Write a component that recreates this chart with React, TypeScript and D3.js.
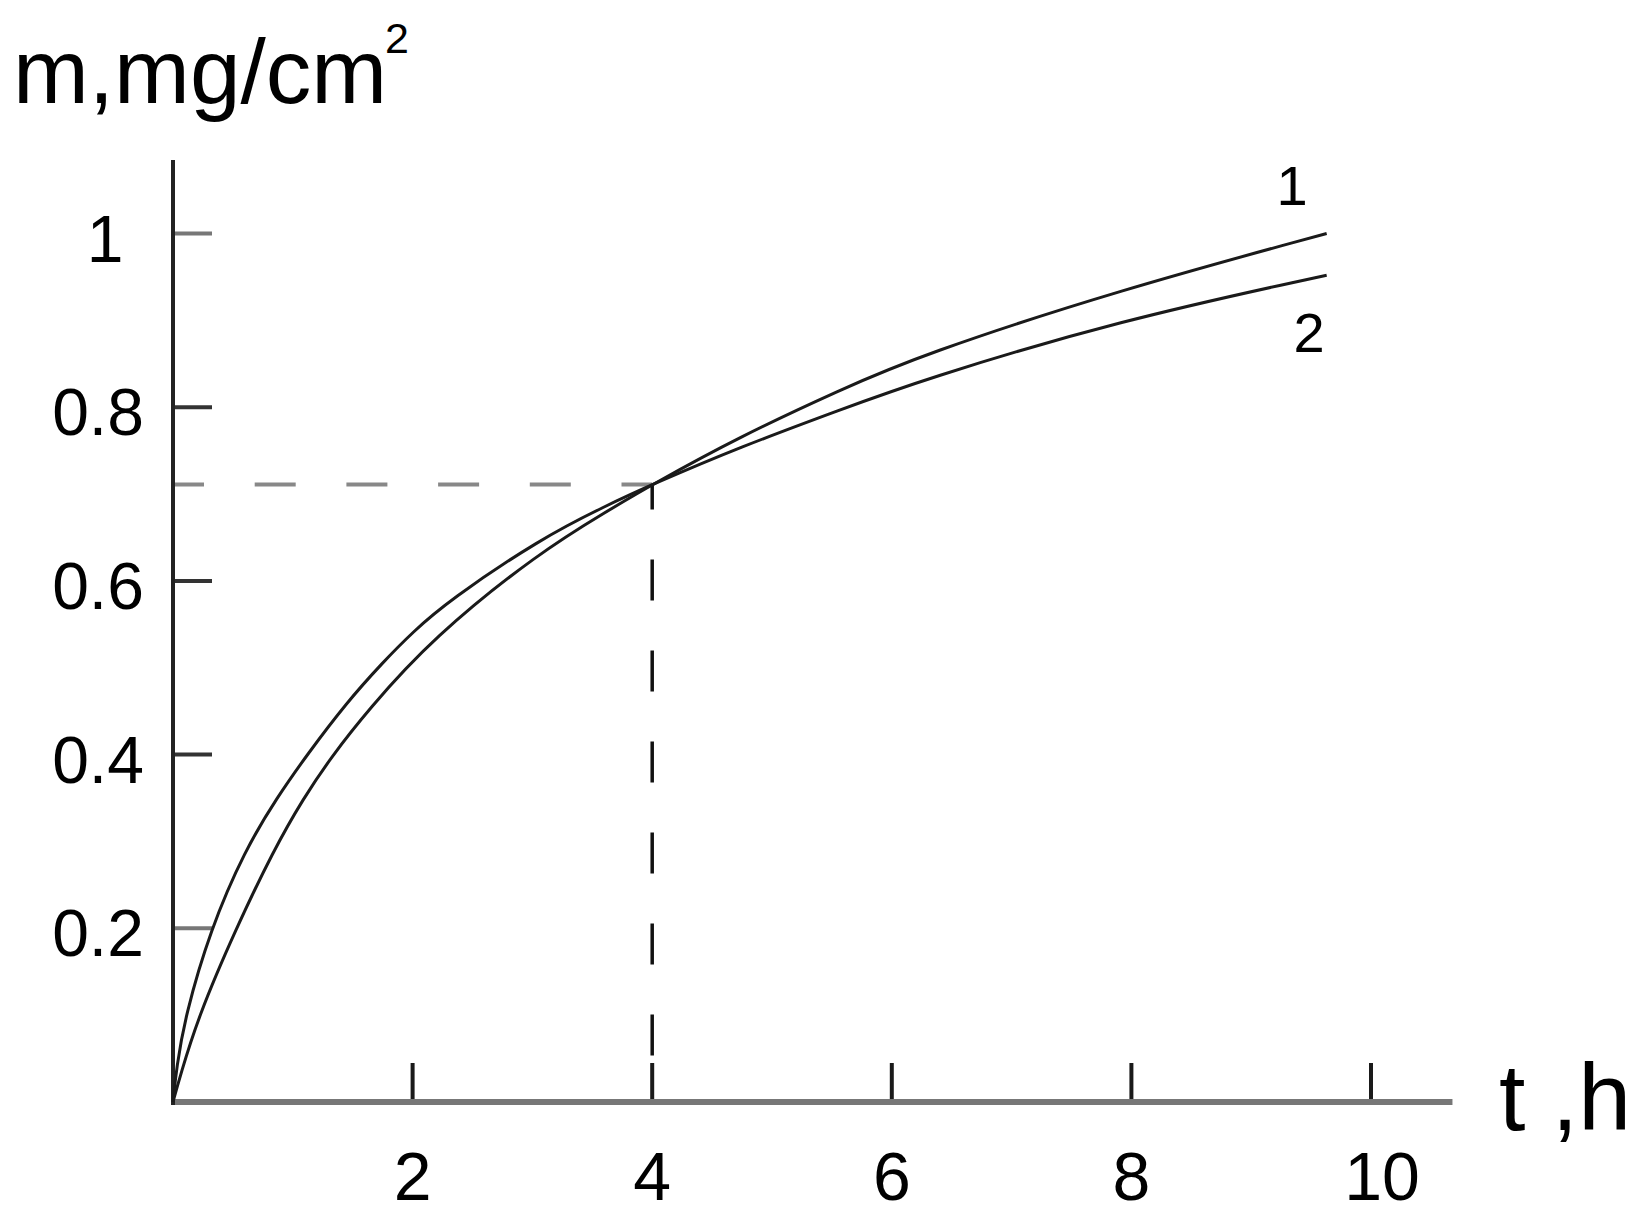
import React from "react";
import * as d3 from "d3";

// ---- data ----
const xTicks = [2, 4, 6, 8, 10];
const yTicks = [0.2, 0.4, 0.6, 0.8, 1];
const yTickLabels = ["0.2", "0.4", "0.6", "0.8", "1"];

// curve 1: lower at small t, ends at 1.0
const curve1T = [0, 0.06, 0.21, 0.52, 0.84, 1.09, 1.32, 1.62, 2.17, 3.06, 3.62, 4.0, 4.73, 5.57, 6.24, 7.9, 9.63];
const curve1M = [0, 0.03, 0.098, 0.198, 0.29, 0.35, 0.397, 0.45, 0.535, 0.633, 0.68, 0.711, 0.766, 0.82, 0.86, 0.935, 1.0];

// curve 2: upper at small t, ends at 0.95
const curve2T = [0, 0.03, 0.1, 0.31, 0.6, 0.87, 1.12, 1.45, 1.75, 2.0, 2.3, 3.06, 3.62, 4.0, 4.73, 5.57, 6.24, 7.9, 9.63];
const curve2M = [0, 0.04, 0.098, 0.198, 0.29, 0.351, 0.4, 0.46, 0.506, 0.541, 0.577, 0.648, 0.687, 0.711, 0.754, 0.797, 0.831, 0.9, 0.952];

const markT = 4;
const markM = 0.711;

const seriesNames = ["1", "2"];

export default function App() {
  const x = d3.scaleLinear().domain([0, 10]).range([173, 1371]);
  const y = d3.scaleLinear().domain([0, 1]).range([1102, 233.5]);

  const line = d3
    .line<[number, number]>()
    .x((d) => x(d[0]))
    .y((d) => y(d[1]))
    .curve(d3.curveBasis);

  const c1 = curve1T.map((t, i) => [t, curve1M[i]] as [number, number]);
  const c2 = curve2T.map((t, i) => [t, curve2M[i]] as [number, number]);

  const font = "'Liberation Sans', Arial, sans-serif";
  const xEnd = x(10.68);

  return (
    <div style={{ position: "absolute", left: 0, top: 0 }}>
      <svg width={1641} height={1220} style={{ display: "block", background: "#fff" }}>
        {/* title */}
        <text x={13} y={103} fontFamily={font} fontSize={91} fill="#000">
          m,mg/cm
          <tspan dx={-2} dy={-50} fontSize={43}>
            2
          </tspan>
        </text>

        {/* dashed guides */}
        <line
          x1={x(0)}
          y1={y(markM)}
          x2={x(markT)}
          y2={y(markM)}
          stroke="#888"
          strokeWidth={4}
          strokeDasharray="41 50.7"
          strokeDashoffset={10}
        />
        <line
          x1={x(markT)}
          y1={y(markM)}
          x2={x(markT)}
          y2={y(0)}
          stroke="#111"
          strokeWidth={3.5}
          strokeDasharray="41 50"
          strokeDashoffset={16}
        />

        {/* y ticks */}
        {yTicks.map((v, i) => (
          <g key={"yt" + v}>
            <line
              x1={x(0)}
              x2={x(0) + 39}
              y1={y(v)}
              y2={y(v)}
              stroke={v === 1 || v === 0.2 ? "#777" : "#333"}
              strokeWidth={4}
            />
            <text
              x={98 + (yTickLabels[i] === "1" ? 7 : 0)}
              y={y(v) + 28}
              textAnchor="middle"
              fontFamily={font}
              fontSize={66}
              fill="#000"
            >
              {yTickLabels[i]}
            </text>
          </g>
        ))}

        {/* x ticks */}
        {xTicks.map((v) => (
          <g key={"xt" + v}>
            <line x1={x(v)} x2={x(v)} y1={y(0)} y2={y(0) - 39} stroke="#1a1a1a" strokeWidth={4} />
            <text
              x={x(v) + (v >= 10 ? 11 : 0)}
              y={1200}
              textAnchor="middle"
              fontFamily={font}
              fontSize={68}
              fill="#000"
            >
              {v}
            </text>
          </g>
        ))}

        {/* axes */}
        <line x1={x(0)} x2={xEnd} y1={y(0)} y2={y(0)} stroke="#777" strokeWidth={6} />
        <line x1={x(0)} x2={x(0)} y1={160} y2={y(0) + 3} stroke="#222" strokeWidth={4} />

        {/* curves */}
        <path d={line(c1) || ""} fill="none" stroke="#1a1a1a" strokeWidth={3} />
        <path d={line(c2) || ""} fill="none" stroke="#1a1a1a" strokeWidth={3} />

        {/* curve labels */}
        <text x={1292} y={205} textAnchor="middle" fontFamily={font} fontSize={56} fill="#000">
          {seriesNames[0]}
        </text>
        <text x={1309} y={352} textAnchor="middle" fontFamily={font} fontSize={56} fill="#000">
          {seriesNames[1]}
        </text>

        {/* x axis title */}
        <text x={1499} y={1130} fontFamily={font} fontSize={95} fill="#000" style={{ whiteSpace: "pre" }}>
          {"t ,h"}
        </text>
      </svg>
    </div>
  );
}
